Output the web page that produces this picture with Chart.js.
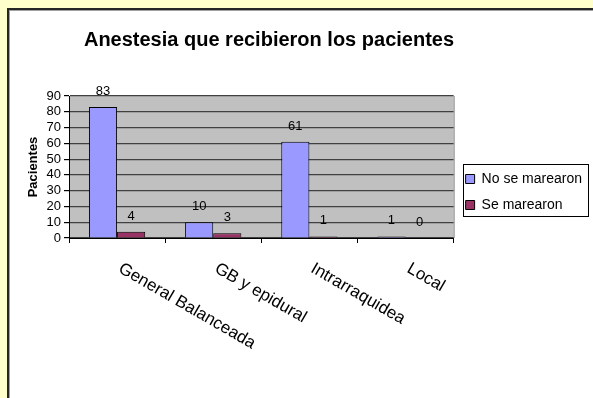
<!DOCTYPE html>
<html>
<head>
<meta charset="utf-8">
<script src="https://cdn.jsdelivr.net/npm/chart.js@4.4.1/dist/chart.umd.min.js"></script>
<style>
  html, body { margin: 0; padding: 0; background: #ffffcc; overflow: hidden; }
  #frame {
    position: absolute; left: 7px; top: 8px; width: 700px; height: 500px;
    background: #fff; border-left: 2px solid #262626; border-top: 2px solid #262626;
    box-shadow: inset 1px 1px 0 #a0a0a0;
  }
  #chart { position: absolute; left: 0; top: 0; }
</style>
</head>
<body>
<div id="frame"></div>
<canvas id="chart" width="593" height="398"></canvas>
<script>
const chartTitle = "Anestesia que recibieron los pacientes";
const categories = ["General Balanceada", "GB y epidural", "Intrarraquidea", "Local"];
const noMarearon = [83, 10, 61, 1];
const seMarearon = [4, 3, 1, 0];
const seriesNames = ["No se marearon", "Se marearon"];
const yAxisLabel = "Pacientes";
const yMin = 0;
const yMax = 90;
const yStep = 10;

const fontFamily = "'Liberation Sans', Arial, sans-serif";

// gray plot area with darker right edge
const plotBackground = {
  id: "plotBackground",
  beforeDraw(chart) {
    const { ctx, chartArea: a } = chart;
    ctx.save();
    ctx.fillStyle = "#c0c0c0";
    ctx.fillRect(a.left, a.top, a.right - a.left, a.bottom - a.top);
    ctx.strokeStyle = "#808080";
    ctx.lineWidth = 1;
    ctx.beginPath();
    ctx.moveTo(a.right + 0.5, a.top);
    ctx.lineTo(a.right + 0.5, a.bottom);
    ctx.stroke();
    ctx.restore();
  },
};

// numbers over each bar
const barValues = {
  id: "barValues",
  afterDatasetsDraw(chart) {
    const { ctx } = chart;
    ctx.save();
    ctx.font = `13px ${fontFamily}`;
    ctx.fillStyle = "#000";
    ctx.textAlign = "center";
    ctx.textBaseline = "alphabetic";
    chart.data.datasets.forEach((ds, di) => {
      chart.getDatasetMeta(di).data.forEach((bar, i) => {
        ctx.fillText(String(ds.data[i]), bar.x, bar.y - 12);
      });
    });
    ctx.restore();
  },
};

// category names slanted downwards, starting under each group
const slantedLabels = {
  id: "slantedLabels",
  afterDraw(chart) {
    const { ctx } = chart;
    const xs = chart.scales.x;
    ctx.save();
    ctx.font = `17px ${fontFamily}`;
    ctx.fillStyle = "#000";
    ctx.textAlign = "left";
    ctx.textBaseline = "top";
    chart.data.labels.forEach((label, i) => {
      ctx.save();
      ctx.translate(xs.getPixelForValue(i) + 7, xs.top + 22);
      ctx.rotate(Math.PI / 6);
      ctx.fillText(label, 0, 0);
      ctx.restore();
    });
    ctx.restore();
  },
};

const heading = {
  id: "heading",
  afterDraw(chart) {
    const { ctx } = chart;
    ctx.save();
    ctx.font = `bold 20px ${fontFamily}`;
    ctx.fillStyle = "#000";
    ctx.textAlign = "center";
    ctx.textBaseline = "alphabetic";
    ctx.fillText(chartTitle, 269, 46);
    ctx.restore();
  },
};

// thin box round the legend
const legendFrame = {
  id: "legendFrame",
  afterDraw(chart) {
    const boxes = chart.legend.legendHitBoxes;
    if (!boxes.length) return;
    const first = boxes[0];
    const last = boxes[boxes.length - 1];
    const x0 = Math.round(first.left - 3) + 0.5;
    const y0 = Math.round(first.top - 8) + 0.5;
    const y1 = Math.round(last.top + last.height + 4) + 0.5;
    const { ctx } = chart;
    ctx.save();
    ctx.strokeStyle = "#000";
    ctx.lineWidth = 1;
    ctx.strokeRect(x0, y0, 125, y1 - y0);
    ctx.restore();
  },
};

new Chart(document.getElementById("chart"), {
  type: "bar",
  data: {
    labels: categories,
    datasets: [
      {
        label: seriesNames[0],
        data: noMarearon,
        backgroundColor: "#9999ff",
        borderColor: "#000",
        borderWidth: 1,
      },
      {
        label: seriesNames[1],
        data: seMarearon,
        backgroundColor: "#993366",
        borderColor: "#000",
        borderWidth: 1,
      },
    ],
  },
  options: {
    responsive: false,
    animation: false,
    layout: { padding: { left: 26, right: 1, top: 96, bottom: 110 } },
    datasets: {
      bar: { categoryPercentage: 0.585, barPercentage: 1 },
    },
    plugins: {
      title: { display: false },
      tooltip: { enabled: false },
      legend: {
        position: "right",
        labels: {
          boxWidth: 9,
          boxHeight: 9,
          padding: 12,
          color: "#000",
          font: { family: fontFamily, size: 14 },
        },
      },
    },
    scales: {
      x: {
        offset: true,
        afterFit: (scale) => { scale.height = 50; },
        grid: { offset: true, drawOnChartArea: false, color: "#000", tickLength: 5 },
        border: { display: true, color: "#000", width: 1 },
        ticks: { display: false },
      },
      y: {
        min: yMin,
        max: yMax,
        afterFit: (scale) => { scale.width = 43; },
        grid: { color: "#404040", lineWidth: 1.2, tickColor: "#000", tickLength: 5 },
        border: { display: true, color: "#000", width: 1 },
        ticks: {
          stepSize: yStep,
          autoSkip: false,
          color: "#000",
          padding: 3,
          font: { family: fontFamily, size: 13 },
        },
        title: {
          display: true,
          text: yAxisLabel,
          color: "#000",
          padding: { top: 0, bottom: 0 },
          font: { family: fontFamily, size: 13, weight: "bold" },
        },
      },
    },
  },
  plugins: [plotBackground, barValues, slantedLabels, heading, legendFrame],
});
</script>
</body>
</html>
